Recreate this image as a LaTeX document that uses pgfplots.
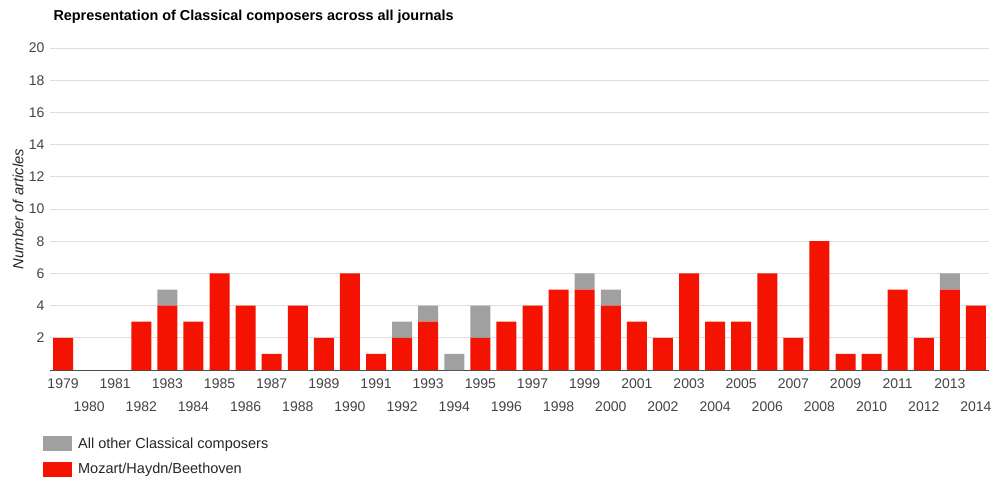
\documentclass[border=0pt]{standalone}
\usepackage{pgfplots}
\pgfplotsset{compat=1.18}
\usepackage{pgfplotstable}
\usepackage{fontspec}
\setmainfont{Liberation Sans}
\definecolor{barred}{RGB}{243,19,0}
\definecolor{bargray}{RGB}{160,160,160}
\definecolor{ticktext}{RGB}{68,68,68}
\pgfplotstableread{
idx red gray
0 2 0
1 0 0
2 0 0
3 3 0
4 4 1
5 3 0
6 6 0
7 4 0
8 1 0
9 4 0
10 2 0
11 6 0
12 1 0
13 2 1
14 3 1
15 0 1
16 2 2
17 3 0
18 4 0
19 5 0
20 5 1
21 4 1
22 3 0
23 2 0
24 6 0
25 3 0
26 3 0
27 6 0
28 2 0
29 8 0
30 1 0
31 1 0
32 5 0
33 2 0
34 5 1
35 4 0
}\datatable
\begin{document}
\begin{tikzpicture}
\path[use as bounding box] (0pt,0pt) rectangle (1000pt,491pt);
\begin{axis}[
  at={(50pt,121pt)}, anchor=south west,
  scale only axis, width=939pt, height=322pt,
  ybar stacked, bar width=20pt,
  xmin=-0.5, xmax=35.5, ymin=0, ymax=20,
  ytick={2,4,...,20},
  ymajorgrids, grid style={draw=black!13, line width=0.8pt},
  axis line style={draw=none},
  major tick length=0pt,
  xtick={0,2,...,34},
  xticklabels={1979,1981,1983,1985,1987,1989,1991,1993,1995,1997,1999,2001,2003,2005,2007,2009,2011,2013},
  extra x ticks={1,3,...,35},
  extra x tick labels={1980,1982,1984,1986,1988,1990,1992,1994,1996,1998,2000,2002,2004,2006,2008,2010,2012,2014},
  extra x tick style={xticklabel style={yshift=-23pt}, grid=none},
  xticklabel style={font=\fontsize{14}{16}\selectfont, text=ticktext, yshift=-5pt},
  yticklabel style={font=\fontsize{14}{16}\selectfont, text=ticktext, xshift=-2pt},
  /pgf/number format/assume math mode=true,
  ylabel={\itshape Number of articles},
  ylabel style={font=\fontsize{14.8}{16}\selectfont, text=black!85, at={(axis description cs:-0.0341,0.5)}, anchor=center},
  title={Representation of Classical composers across all journals},
  title style={font=\bfseries\fontsize{14.4}{16}\selectfont, at={(axis description cs:0,1)}, anchor=base west, yshift=22pt},
  reverse legend,
  legend style={draw=none, fill=none, at={(axis description cs:-0.0075,-0.205)}, anchor=north west,
    font=\fontsize{14.5}{16}\selectfont, text=black!85, row sep=10.5pt, inner sep=0pt,
    nodes={inner sep=0pt, anchor=west}},
  legend cell align=left,
]
\addplot[fill=barred, draw=none, legend image code/.code={\fill[barred] (0pt,-7.5pt) rectangle (29pt,7.5pt); \path (35pt,0pt);}] table[x=idx, y=red] {\datatable};
\addlegendentry{Mozart/Haydn/Beethoven}
\addplot[fill=bargray, draw=none, legend image code/.code={\fill[bargray] (0pt,-7.5pt) rectangle (29pt,7.5pt); \path (35pt,0pt);}] table[x=idx, y=gray] {\datatable};
\addlegendentry{All other Classical composers}
\draw[black!70, line width=0.9pt] (rel axis cs:0,0) -- (rel axis cs:1,0);
\end{axis}
\end{tikzpicture}
\end{document}
